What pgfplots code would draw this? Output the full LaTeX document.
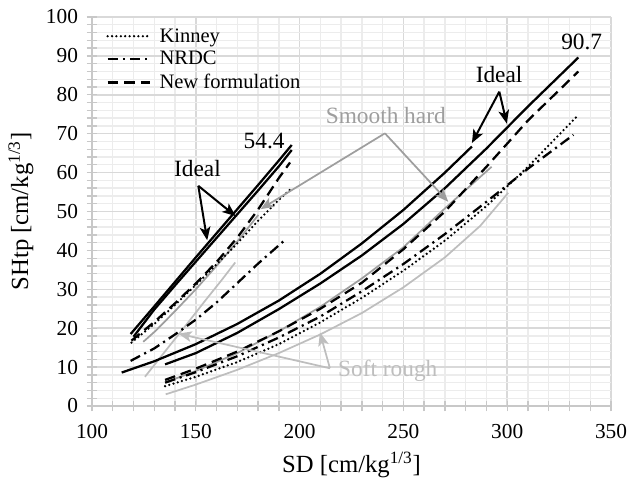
\documentclass[border=0pt]{standalone}
\usepackage{fontspec}
\setmainfont{Liberation Serif}
\usepackage{pgfplots}
\pgfplotsset{compat=1.18}
\usetikzlibrary{arrows.meta}

\definecolor{gridmajor}{RGB}{217,217,217}
\definecolor{gridminor}{RGB}{236,236,236}
\definecolor{axisgray}{RGB}{200,200,200}
\definecolor{smoothgray}{RGB}{158,158,158}
\definecolor{roughgray}{RGB}{190,190,190}

\newcommand\tickfont{\fontsize{16}{19}\selectfont}
\newcommand\legfont{\fontsize{15.4}{18}\selectfont}
\newcommand\labfont{\fontsize{18.5}{21}\selectfont}
\newcommand\notefont{\fontsize{17.5}{20}\selectfont}

\tikzset{
  kinney/.style={black, line width=1.9pt, line cap=round, dash pattern=on 0pt off 3.3pt},
  nrdc/.style={black, line width=1.7pt, dash pattern=on 8pt off 3.5pt on 1.6pt off 3.5pt},
  newf/.style={black, line width=1.7pt, dash pattern=on 8pt off 4.5pt},
  ideal/.style={black, line width=1.7pt},
  smooth/.style={smoothgray, line width=1.3pt},
  rough/.style={roughgray, line width=1.3pt},
  blackarrow/.style={black, line width=1.5pt, -{Stealth[length=10pt,width=8pt,inset=2.5pt]}},
  smootharrow/.style={smoothgray, line width=1.3pt, -{Stealth[length=10pt,width=8pt,inset=2.5pt]}},
  rougharrow/.style={roughgray, line width=1.3pt, -{Stealth[length=10pt,width=8pt,inset=2.5pt]}},
}

\begin{document}
\begin{tikzpicture}
\begin{axis}[
  scale only axis, width=389.25pt, height=291.75pt,
  xmin=100, xmax=350, ymin=0, ymax=100,
  xtick={100,150,...,350}, ytick={0,10,...,100},
  minor x tick num=4, minor y tick num=4,
  grid=both,
  major grid style={gridmajor, line width=1.1pt},
  minor grid style={gridminor, line width=1pt},
  axis x line*=bottom, axis y line*=left,
  axis line style={axisgray, line width=1.1pt, -},
  tick align=center, major tick length=8pt, minor tick length=8pt,
  tick style={axisgray, line width=1pt},
  /pgf/number format/assume math mode=true,
  ticklabel style={font=\tickfont},
  xticklabel style={anchor=center, yshift=-15.5pt},
  yticklabel style={anchor=east, xshift=-3pt},
  xlabel={SD [cm/kg\textsuperscript{1/3}]},
  ylabel={SHtp [cm/kg\textsuperscript{1/3}]},
  label style={font=\labfont},
  xlabel style={at={(axis description cs:0.5,-0.152)}, anchor=center},
  ylabel style={at={(axis description cs:-0.137,0.5)}, anchor=center},
  legend style={at={(axis description cs:0.022,0.985)}, anchor=north west,
    draw=none, fill=none, font=\legfont, inner sep=2pt, row sep=1.5pt,
    cells={anchor=west}},
  legend image code/.code={\draw[#1] (0pt,0pt) -- (32pt,0pt); \path (36pt,0pt);},
]
\addlegendimage{kinney}
\addlegendentry{Kinney}
\addlegendimage{nrdc}
\addlegendentry{NRDC}
\addlegendimage{newf}
\addlegendentry{New formulation}

% ---- small-charge group (SD up to about 196) ----
\addplot[smooth, forget plot] coordinates {(124.7,16.5) (131,19.5) (140,24.4) (150,30.0) (160,36.0) (170,42.3) (180.1,49.1)};
\addplot[rough, forget plot] coordinates {(125.5,7.5) (135,13.9) (145,20.6) (155,27.4) (162.5,32.4) (169,36.9)};
\addplot[nrdc, forget plot] coordinates {(118.6,11.6) (130,14.8) (140,18.4) (150,22.2) (160,26.6) (170,31.6) (180,36.6) (190,41.3) (193,42.7)};
\addplot[kinney, forget plot] coordinates {(119,16.3) (130,21.1) (140,26.0) (150,31.1) (160,36.4) (170,41.8) (180,47.6) (190,53.0) (195.4,55.6)};
\addplot[newf, forget plot] coordinates {(119,16.8) (130,21.6) (140,26.4) (150,31.5) (160,37.0) (170,43.3) (180,50.5) (190,58.6) (195.4,62.6)};
\addplot[ideal, forget plot] coordinates {(120,17.8) (130,24.8) (140,31.0) (150,37.1) (160,43.2) (170,49.3) (180,55.4) (190,61.6) (196.2,65.8)};
\addplot[ideal, forget plot] coordinates {(118.6,18.5) (130,25.6) (140,31.9) (150,38.2) (160,44.4) (170,50.6) (180,56.8) (190,63.1) (196.2,67.1)};

% ---- large-charge group (SD up to about 334) ----
\addplot[rough, forget plot] coordinates {(135.5,3.0) (150,5.5) (170,9.3) (190,13.6) (210,18.4) (230,23.9) (250,30.5) (270,38.2) (287,46.3) (300.5,54.8)};
\addplot[smooth, forget plot] coordinates {(136,6.2) (150,9.0) (170,13.6) (190,19.2) (210,25.5) (230,32.8) (250,40.8) (270,50.8) (292.5,61.5)};
\addplot[kinney, forget plot] coordinates {(135.2,5.1) (150,7.5) (170,11.3) (190,15.9) (210,21.5) (230,27.8) (250,34.8) (270,42.5) (290,51.4) (310,61.5) (333.5,74.4)};
\addplot[nrdc, forget plot] coordinates {(135.2,6.0) (150,8.7) (170,12.8) (190,17.6) (210,23.0) (230,29.5) (250,36.5) (270,44.2) (290,52.5) (310,61.0) (331.9,69.7)};
\addplot[newf, forget plot] coordinates {(135.2,6.7) (150,9.6) (170,14.0) (190,19.2) (210,25.0) (230,31.7) (250,40.3) (270,50.0) (290,61.5) (310,73.4) (334.3,86.0)};
\addplot[ideal, forget plot] coordinates {(135.2,10.7) (150,13.6) (170,18.8) (190,24.9) (210,31.5) (230,38.7) (250,46.8) (270,56.0) (290,66.2) (310,77.0) (334.3,89.6)};
\addplot[ideal, forget plot] coordinates {(114.3,8.6) (130,11.5) (150,15.9) (170,21.1) (190,27.1) (210,34.0) (230,41.8) (250,50.4) (270,60.0) (283,66.7)};

% ---- annotations ----
\node[font=\notefont] at (axis cs:150.8,61.1) {Ideal};
\draw[blackarrow] (axis cs:151.2,56.6) -- (axis cs:155.5,42.6);
\draw[blackarrow] (axis cs:151.2,56.6) -- (axis cs:169.2,48.8);
\node[font=\notefont] at (axis cs:182.9,68.2) {54.4};

\node[font=\notefont] at (axis cs:296.1,85.1) {Ideal};
\draw[blackarrow] (axis cs:296.2,80.8) -- (axis cs:283.0,67.6);
\draw[blackarrow] (axis cs:296.2,80.8) -- (axis cs:299.8,72.6);
\node[font=\notefont] at (axis cs:335.9,93.7) {90.7};

\node[font=\notefont, text=smoothgray] at (axis cs:241.5,74.6) {Smooth hard};
\draw[smootharrow] (axis cs:241.1,70.1) -- (axis cs:181.2,50.6);
\draw[smootharrow] (axis cs:241.1,70.1) -- (axis cs:271.6,52.5);

\node[font=\notefont, text=roughgray] at (axis cs:242.5,9.0) {Soft rough};
\draw[rougharrow] (axis cs:214.6,9.7) -- (axis cs:141.6,18.6);
\draw[rougharrow] (axis cs:214.6,9.7) -- (axis cs:209.8,18.9);
\end{axis}
\pgfresetboundingbox
\path[use as bounding box] (current axis.south west) ++(-69pt,-58.5pt)
  rectangle ([xshift=12pt,yshift=12.75pt]current axis.north east);
\end{tikzpicture}
\end{document}
